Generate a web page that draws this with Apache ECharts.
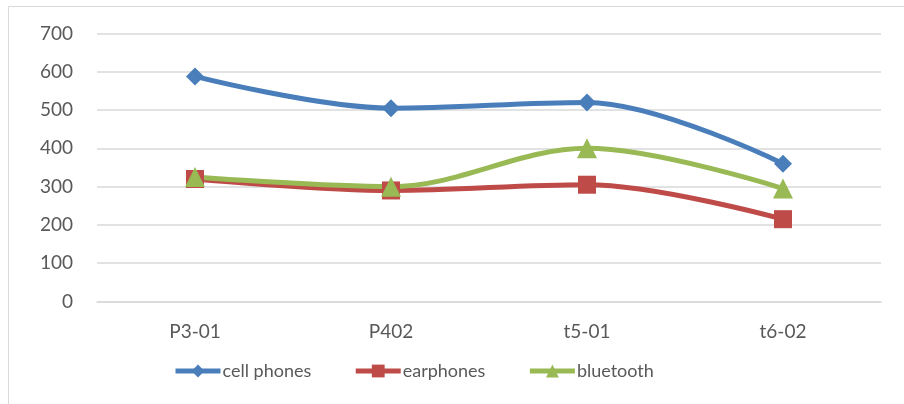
<!DOCTYPE html>
<html>
<head>
<meta charset="utf-8">
<script src="https://cdn.jsdelivr.net/npm/echarts@6/dist/echarts.min.js"></script>
<style>
  html, body { margin: 0; padding: 0; background: #fff; }
  #chart { width: 904px; height: 404px; }
</style>
</head>
<body>
<div id="chart"></div>
<script>
// Product categories along the x axis
const categories = ['P3-01', 'P402', 't5-01', 't6-02'];

// Values per product line
const cellPhones = [588, 505, 520, 360];
const earphones  = [320, 290, 305, 215];
const bluetooth  = [325, 300, 400, 295];

// Value axis range
const yMin = 0;
const yMax = 700;
const yStep = 100;

const textColor = '#595959';
const fontFamily = 'Lato, "Open Sans", sans-serif';

function lineSeries(name, data, color, symbol, size) {
  return {
    name: name,
    type: 'line',
    data: data,
    smooth: 0.35,
    symbol: symbol,
    symbolSize: size,
    lineStyle: { color: color, width: 5 },
    itemStyle: { color: color },
    emphasis: { disabled: true }
  };
}

const chart = echarts.init(document.getElementById('chart'), null, { renderer: 'canvas' });
chart.setOption({
  animation: false,
  backgroundColor: '#ffffff',
  textStyle: { fontFamily: fontFamily },
  graphic: [{
    type: 'rect',
    shape: { x: 8.5, y: 6.5, width: 1000, height: 1000 },
    style: { fill: 'none', stroke: '#d9d9d9', lineWidth: 1 },
    silent: true
  }],
  grid: { left: 97, right: 23, top: 33.5, bottom: 102.5, containLabel: false },
  legend: {
    top: 357,
    left: 168,
    itemWidth: 45,
    itemHeight: 16,
    itemGap: 42,
    lineStyle: { width: 5 },
    textStyle: { color: textColor, fontSize: 18, fontFamily: fontFamily, padding: [0, 0, 0, -3] },
    data: ['cell phones', 'earphones', 'bluetooth']
  },
  xAxis: {
    type: 'category',
    data: categories,
    boundaryGap: true,
    axisLine: { lineStyle: { color: '#d9d9d9', width: 1.5 } },
    axisTick: { show: false },
    axisLabel: { color: textColor, fontSize: 19, margin: 21, fontFamily: fontFamily }
  },
  yAxis: {
    type: 'value',
    min: yMin,
    max: yMax,
    interval: yStep,
    axisLine: { show: false },
    axisTick: { show: false },
    splitLine: { lineStyle: { color: '#d9d9d9', width: 1.5 } },
    axisLabel: { color: textColor, fontSize: 19, margin: 24, fontFamily: fontFamily }
  },
  series: [
    lineSeries('cell phones', cellPhones, '#4a7ebb', 'diamond', 18),
    lineSeries('earphones', earphones, '#be4b48', 'rect', 18),
    lineSeries('bluetooth', bluetooth, '#98b954', 'triangle', 20)
  ]
});
</script>
</body>
</html>
